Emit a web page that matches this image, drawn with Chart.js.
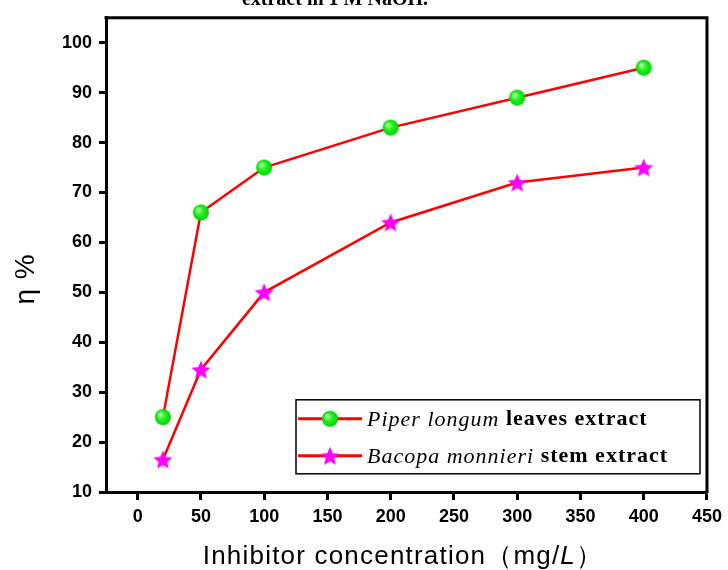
<!DOCTYPE html>
<html lang="en">
<head>
	<meta charset="UTF-8"/>
	<title>Inhibition efficiency vs inhibitor concentration</title>
	<script src="https://cdn.jsdelivr.net/npm/chart.js"></script>
	<style>
		body {
			margin: 0;
			background: white;
			overflow: hidden;
		}
		.wrap {
			position: relative;
			width: 728px;
			height: 570px;
		}
		.cut-title {
			position: absolute;
			top: -13px;
			left: 0;
			width: 670px;
			text-align: center;
			font: bold 20px "Liberation Serif", serif;
			color: black;
			white-space: nowrap;
		}
	</style>
</head>
<body>
<div class="wrap">
	<canvas id="myChart" width="728" height="570"></canvas>
	<div class="cut-title">extract in 1 M NaOH.</div>
</div>

<script>
	const concentrations = [20, 50, 100, 200, 300, 400];
	const piperValues = [25, 66, 75, 83, 89, 95];
	const bacopaValues = [16.5, 34.5, 50, 64, 72, 75];
	const xTicks = [0, 50, 100, 150, 200, 250, 300, 350, 400, 450];
	const yTicks = [10, 20, 30, 40, 50, 60, 70, 80, 90, 100];

	// marker images: shaded green ball and filled magenta star
	function makeBall(r) {
		const c = document.createElement("canvas");
		c.width = c.height = 2 * r + 2;
		const g = c.getContext("2d");
		const grad = g.createRadialGradient(r - 2, r - 2, 1, r + 1, r + 1, r);
		grad.addColorStop(0, "#a8ff98");
		grad.addColorStop(0.45, "#22f022");
		grad.addColorStop(1, "#00d400");
		g.fillStyle = grad;
		g.beginPath();
		g.arc(r + 1, r + 1, r, 0, Math.PI * 2);
		g.fill();
		return c;
	}

	function makeStar(r) {
		const c = document.createElement("canvas");
		c.width = c.height = 2 * r + 2;
		const g = c.getContext("2d");
		g.fillStyle = "#ff00ff";
		g.beginPath();
		for (let i = 0; i < 10; i++) {
			const rad = i % 2 === 0 ? r : r * 0.45;
			const a = -Math.PI / 2 + i * Math.PI / 5;
			const px = r + 1 + rad * Math.cos(a);
			const py = r + 1 + rad * Math.sin(a) + 1;
			if (i === 0) g.moveTo(px, py); else g.lineTo(px, py);
		}
		g.closePath();
		g.fill();
		return c;
	}

	const ball = makeBall(8);
	const star = makeStar(10);

	function drawParts(ctx, parts, x, y) {
		parts.forEach(p => {
			ctx.font = p.f;
			ctx.fillText(p.t, x, y);
			x += ctx.measureText(p.t).width;
		});
	}

	function partsWidth(ctx, parts) {
		let total = 0;
		parts.forEach(p => { ctx.font = p.f; total += ctx.measureText(p.t).width; });
		return total;
	}

	const frameAndLegend = {
		id: "frameAndLegend",
		afterDraw(chart) {
			const { ctx, chartArea: a } = chart;
			ctx.save();
			// top and right border
			ctx.strokeStyle = "black";
			ctx.lineWidth = 3;
			ctx.beginPath();
			ctx.moveTo(a.left - 1.5, a.top);
			ctx.lineTo(a.right, a.top);
			ctx.lineTo(a.right, a.bottom + 1.5);
			ctx.stroke();

			// legend box
			const bx = a.left + 190, by = a.top + 382, bw = 404, bh = 74;
			ctx.fillStyle = "white";
			ctx.fillRect(bx, by, bw, bh);
			ctx.lineWidth = 1.5;
			ctx.strokeRect(bx, by, bw, bh);

			const rows = [
				{ img: ball, italic: "Piper longum", bold: " leaves extract" },
				{ img: star, italic: "Bacopa monnieri", bold: " stem extract" }
			];
			ctx.letterSpacing = "1px";
			rows.forEach((row, i) => {
				const cy = by + 19 + i * 37;
				ctx.strokeStyle = "#ff0000";
				ctx.lineWidth = 3;
				ctx.beginPath();
				ctx.moveTo(bx + 2, cy);
				ctx.lineTo(bx + 66, cy);
				ctx.stroke();
				ctx.drawImage(row.img, bx + 34 - row.img.width / 2, cy - row.img.height / 2);
				ctx.fillStyle = "black";
				ctx.textBaseline = "middle";
				ctx.textAlign = "left";
				drawParts(ctx, [
					{ t: row.italic, f: "italic 22px 'Liberation Serif'" },
					{ t: row.bold, f: "bold 22px 'Liberation Serif'" }
				], bx + 71, cy + 1);
			});

			// x axis title with italic unit
			ctx.letterSpacing = "1.2px";
			ctx.textBaseline = "alphabetic";
			const xParts = [
				{ t: "Inhibitor concentration\uFF08mg/", f: "26px 'Liberation Sans'" },
				{ t: "L", f: "italic 26px 'Liberation Sans'" },
				{ t: "\uFF09", f: "26px 'Liberation Sans'" }
			];
			drawParts(ctx, xParts, 403 - partsWidth(ctx, xParts) / 2, 564);

			// y axis title, rotated
			ctx.letterSpacing = "1px";
			const yParts = [{ t: "\u03B7 %", f: "28px 'Liberation Sans'" }];
			ctx.translate(34, 279);
			ctx.rotate(-Math.PI / 2);
			drawParts(ctx, yParts, -partsWidth(ctx, yParts) / 2, 0);
			ctx.restore();
		}
	};

	const ctx = document.getElementById("myChart").getContext("2d");
	const myChart = new Chart(ctx, {
		type: "line",
		data: {
			datasets: [
				{
					label: "Piper longum leaves extract",
					data: concentrations.map((c, i) => ({ x: c, y: piperValues[i] })),
					borderColor: "#ff0000",
					borderWidth: 2.5,
					pointStyle: ball,
					tension: 0
				},
				{
					label: "Bacopa monnieri stem extract",
					data: concentrations.map((c, i) => ({ x: c, y: bacopaValues[i] })),
					borderColor: "#ff0000",
					borderWidth: 2.5,
					pointStyle: star,
					tension: 0
				}
			]
		},
		options: {
			responsive: false,
			animation: false,
			layout: { padding: { top: 15, right: 16, left: 0, bottom: 0 } },
			plugins: {
				legend: { display: false },
				tooltip: { enabled: false }
			},
			scales: {
				x: {
					type: "linear",
					min: -25,
					max: 450,
					afterBuildTicks: s => { s.ticks = xTicks.map(v => ({ value: v })); },
					afterFit: s => { s.height = 78; },
					grid: { drawOnChartArea: false, tickLength: 8, tickWidth: 3, tickColor: "black" },
					border: { display: true, width: 3, color: "black" },
					ticks: {
						color: "black",
						padding: 6,
						maxRotation: 0,
						font: { family: "Liberation Sans", size: 18, weight: "bold" }
					}
				},
				y: {
					min: 10,
					max: 105,
					afterBuildTicks: s => { s.ticks = yTicks.map(v => ({ value: v })); },
					afterFit: s => { s.width = 106; },
					grid: { drawOnChartArea: false, tickLength: 7, tickWidth: 3, tickColor: "black" },
					border: { display: true, width: 3, color: "black" },
					ticks: {
						color: "black",
						padding: 7,
						font: { family: "Liberation Sans", size: 18, weight: "bold" }
					}
				}
			}
		},
		plugins: [frameAndLegend]
	});
</script>
</body>
</html>
